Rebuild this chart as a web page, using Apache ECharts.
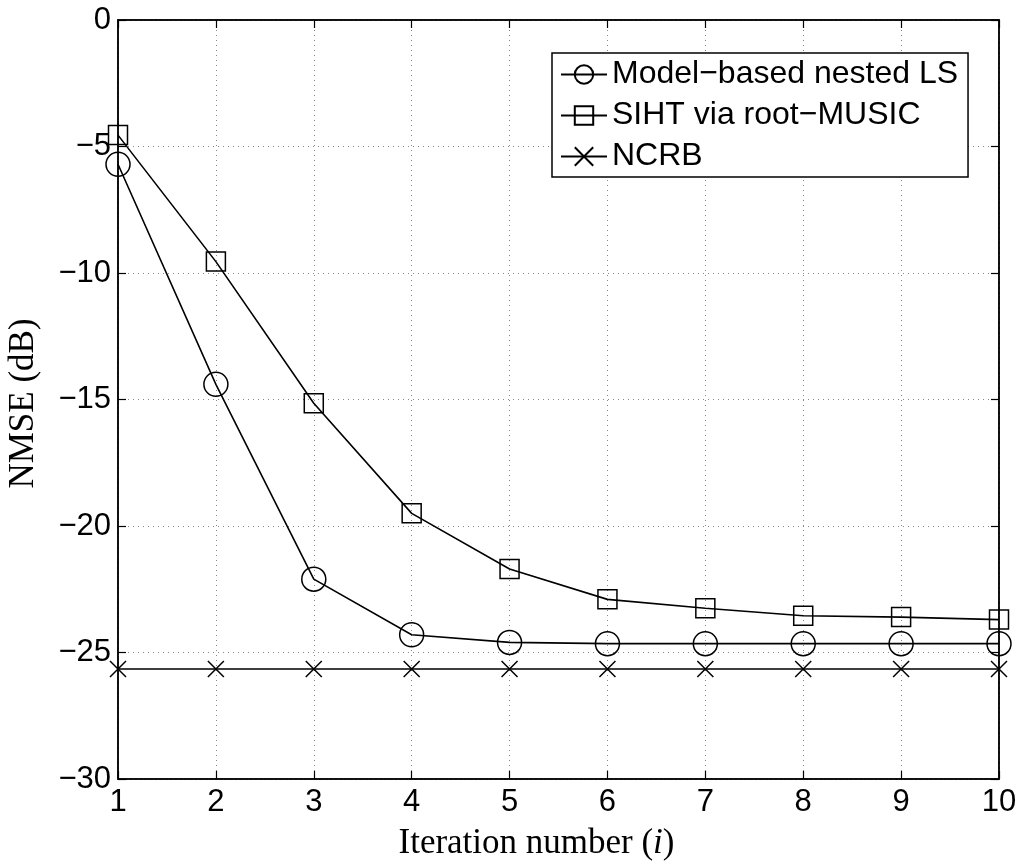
<!DOCTYPE html>
<html>
<head>
<meta charset="utf-8">
<script src="https://cdn.jsdelivr.net/npm/echarts@6/dist/echarts.min.js"></script>
<style>html,body{margin:0;padding:0;background:#fff;}#c{width:1023px;height:865px;}</style>
</head>
<body>
<div id="c"></div>
<script>
const iterations = [1, 2, 3, 4, 5, 6, 7, 8, 9, 10];
const modelNestedLS = [-5.7, -14.4, -22.1, -24.3, -24.6, -24.65, -24.65, -24.65, -24.65, -24.65];
const sihtRootMusic = [-4.55, -9.55, -15.15, -19.5, -21.7, -22.9, -23.25, -23.55, -23.6, -23.7];
const ncrb = [-25.65, -25.65, -25.65, -25.65, -25.65, -25.65, -25.65, -25.65, -25.65, -25.65];
const seriesNames = ['Model\u2212based nested LS', 'SIHT via root\u2212MUSIC', 'NCRB'];

const pair = (ys) => iterations.map((x, i) => [x, ys[i]]);
const fmtNum = (v) => String(v).replace('-', '\u2212');

const chart = echarts.init(document.getElementById('c'), null, {renderer: 'canvas'});
const mkLine = (name, data, symbol, size) => ({
  name: name, type: 'line', data: pair(data), symbol: symbol, symbolSize: size,
  showAllSymbol: true,
  lineStyle: {color: '#000', width: 1.6},
  itemStyle: {color: 'rgba(0,0,0,0)', borderColor: '#000', borderWidth: 1.5},
  emphasis: {disabled: true}, animation: false, z: 3
});
const tickCommon = {inside: true, length: 8, lineStyle: {color: '#000', width: 1.2}};
const split = {show: true, lineStyle: {color: '#888', type: [1, 4], width: 1}};
const serif = 'Liberation Serif, Times New Roman, serif';
const sans = 'Liberation Sans, Arial, sans-serif';
chart.setOption({
  animation: false,
  backgroundColor: '#fff',
  grid: {left: 118, right: 24, top: 20, bottom: 86, containLabel: false, outerBoundsMode: 'none',
         show: true, borderColor: '#000', borderWidth: 1.5, backgroundColor: 'transparent'},
  legend: {
    left: 552, top: 53, orient: 'vertical',
    padding: [5, 10, 4, 8], itemGap: 8, itemWidth: 46, itemHeight: 23,
    backgroundColor: '#fff', borderColor: '#000', borderWidth: 1.5,
    textStyle: {fontFamily: sans, fontSize: 32, lineHeight: 33, color: '#000'},
    data: seriesNames
  },
  xAxis: [{
    type: 'value', min: 1, max: 10, interval: 1, position: 'bottom',
    axisLine: {show: true, onZero: false, lineStyle: {color: '#000', width: 1.5}},
    axisTick: tickCommon,
    axisLabel: {fontFamily: sans, fontSize: 31, color: '#000', margin: 8},
    splitLine: split,
    name: '{a|Iteration number (}{b|i}{a|)}', nameLocation: 'middle', nameGap: 47,
    nameTextStyle: {padding: [0, 44, 0, 0], rich: {
      a: {fontFamily: serif, fontSize: 35, color: '#000'},
      b: {fontFamily: serif, fontSize: 35, fontStyle: 'italic', color: '#000'}
    }}
  }, {
    type: 'value', min: 1, max: 10, interval: 1, position: 'top',
    axisLine: {show: true, onZero: false, lineStyle: {color: '#000', width: 1.5}},
    axisTick: tickCommon, axisLabel: {show: false}, splitLine: {show: false}
  }],
  yAxis: [{
    type: 'value', min: -30, max: 0, interval: 5, position: 'left',
    axisLine: {show: true, onZero: false, lineStyle: {color: '#000', width: 1.5}},
    axisTick: tickCommon,
    axisLabel: {fontFamily: sans, fontSize: 31, color: '#000', margin: 7, formatter: fmtNum},
    splitLine: split,
    name: 'NMSE (dB)', nameLocation: 'middle', nameGap: 77, nameRotate: 90,
    nameTextStyle: {fontFamily: serif, fontSize: 35, color: '#000', padding: [0, 8, 0, 0]}
  }, {
    type: 'value', min: -30, max: 0, interval: 5, position: 'right',
    axisLine: {show: true, onZero: false, lineStyle: {color: '#000', width: 1.5}},
    axisTick: tickCommon, axisLabel: {show: false}, splitLine: {show: false}
  }],
  series: [
    mkLine(seriesNames[0], modelNestedLS, 'circle', 24),
    mkLine(seriesNames[1], sihtRootMusic, 'rect', 19),
    mkLine(seriesNames[2], ncrb, 'path://M0,0L10,10M10,0L0,10', 16)
  ]
});
</script>
</body>
</html>
